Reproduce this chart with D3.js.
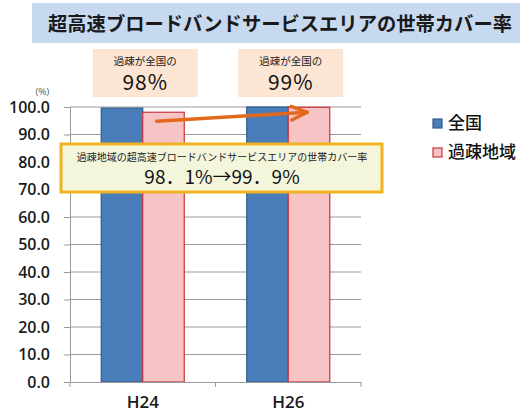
<!DOCTYPE html>
<html>
<head>
<meta charset="utf-8">
<script src="https://cdn.jsdelivr.net/npm/d3@7"></script>
<style>
  html, body { margin: 0; padding: 0; background: #fff; }
  svg { display: block; font-family: "Noto Sans CJK JP", "Noto Sans", sans-serif; }
</style>
</head>
<body>
<svg id="chart" width="520" height="412"></svg>
<script>
// Survey years and the two series (household coverage, %)
const categories = ["H24", "H26"];
const seriesNames = ["全国", "過疎地域"];
const nationalValues = [99.6, 100.0];
const ruralValues = [98.1, 99.9];
const yTicks = [0, 10, 20, 30, 40, 50, 60, 70, 80, 90, 100];
const ratioCaption = "過疎が全国の";
const ratioLabels = ["98%", "99%"];
const titleText = "超高速ブロードバンドサービスエリアの世帯カバー率";
const calloutTitle = "過疎地域の超高速ブロードバンドサービスエリアの世帯カバー率";
const calloutValue = "98．1%→99．9%";

const colors = {
  fill: ["#4a7ebb", "#f7c4c6"],
  stroke: ["#2f5a8c", "#c8333a"]
};

const svg = d3.select("#chart");
const plot = { left: 70, right: 361, top: 107, bottom: 382 };

const x0 = d3.scaleBand().domain(categories).range([plot.left, plot.right]).padding(0);
const x1 = d3.scaleBand().domain(seriesNames).range([0, x0.bandwidth()])
  .paddingInner(0).paddingOuter(0.753);
const y = d3.scaleLinear().domain([0, 100]).range([plot.bottom, plot.top]);

// Title banner
svg.append("rect").attr("x", 32).attr("y", 3).attr("width", 488).attr("height", 40)
  .attr("fill", "#c6d9ef");
svg.append("text").attr("x", 48).attr("y", 31)
  .attr("font-size", 19.8).attr("font-weight", "bold").attr("fill", "#1a1a1a")
  .attr("textLength", 464).attr("lengthAdjust", "spacingAndGlyphs")
  .text(titleText);

// Ratio boxes above each year
categories.forEach((c, i) => {
  const cx = x0(c) + x0.bandwidth() / 2;
  const g = svg.append("g");
  g.append("rect").attr("x", cx - 50).attr("y", 49).attr("width", 105).attr("height", 48)
    .attr("fill", "#fde5d3");
  g.append("text").attr("x", cx + 2.5).attr("y", 65).attr("text-anchor", "middle")
    .attr("font-size", 10.5).attr("fill", "#222").text(ratioCaption);
  g.append("text").attr("x", cx + 2.5).attr("y", 90).attr("text-anchor", "middle")
    .attr("font-size", 21).attr("letter-spacing", 1).attr("fill", "#111").text(ratioLabels[i]);
});

// Unit label
svg.append("text").attr("x", 30).attr("y", 95).attr("font-size", 8.5).attr("fill", "#333").text("（%）");

// Gridlines
svg.append("g").selectAll("line").data(yTicks.filter(t => t > 0)).join("line")
  .attr("x1", plot.left).attr("x2", plot.right)
  .attr("y1", d => y(d)).attr("y2", d => y(d))
  .attr("stroke", "#9a9a9a").attr("stroke-width", 1);

// Y axis
const yAxis = svg.append("g").attr("transform", `translate(${plot.left},0)`)
  .call(d3.axisLeft(y).tickValues(yTicks).tickFormat(d3.format(".1f")).tickSize(6).tickPadding(14));
yAxis.select(".domain").attr("stroke", "#9a9a9a");
yAxis.selectAll(".tick line").attr("stroke", "#9a9a9a");
yAxis.selectAll("text").attr("font-size", 16).attr("font-weight", 600).attr("fill", "#1a1a1a")
  .attr("font-family", "'Open Sans', 'Noto Sans', sans-serif");

// Bars
const rows = categories.map((c, i) => ({ cat: c, vals: [nationalValues[i], ruralValues[i]] }));
const groups = svg.append("g").selectAll("g").data(rows).join("g")
  .attr("transform", d => `translate(${x0(d.cat)},0)`);
groups.selectAll("rect").data(d => d.vals.map((v, j) => ({ name: seriesNames[j], v, j }))).join("rect")
  .attr("x", d => x1(d.name)).attr("width", x1.bandwidth())
  .attr("y", d => y(d.v)).attr("height", d => y(0) - y(d.v))
  .attr("fill", d => colors.fill[d.j]).attr("stroke", d => colors.stroke[d.j]).attr("stroke-width", 1.2);

// X axis
const xAxis = svg.append("g").attr("transform", `translate(0,${plot.bottom})`)
  .call(d3.axisBottom(x0).tickSize(0).tickPadding(14));
xAxis.select(".domain").attr("stroke", "#9a9a9a");
xAxis.selectAll("text").attr("font-size", 17).attr("font-weight", 600).attr("fill", "#1a1a1a")
  .attr("font-family", "'Open Sans', 'Noto Sans', sans-serif");
svg.append("g").selectAll("line").data([plot.left, x0(categories[1]), plot.right]).join("line")
  .attr("x1", d => d).attr("x2", d => d).attr("y1", plot.bottom).attr("y2", plot.bottom + 5)
  .attr("stroke", "#9a9a9a");

// Trend arrow between the rural bars
const ax1 = x0(categories[0]) + x1(seriesNames[1]) + 14;
const ax2 = x0(categories[1]) + x1(seriesNames[1]) + 19;
const ay1 = y(ruralValues[0]) + 9;
const ay2 = y(ruralValues[1]) + 5;
svg.append("defs").append("marker").attr("id", "head")
  .attr("viewBox", "0 0 10 10").attr("refX", 8).attr("refY", 5)
  .attr("markerWidth", 6.5).attr("markerHeight", 6.5).attr("orient", "auto")
  .attr("markerUnits", "strokeWidth")
  .append("path").attr("d", "M1,2 L8,5 L1,8").attr("fill", "none")
  .attr("stroke", "#e2691c").attr("stroke-width", 1.5).attr("stroke-linecap", "round")
  .attr("stroke-linejoin", "round");
svg.append("line").attr("x1", ax1).attr("y1", ay1).attr("x2", ax2).attr("y2", ay2)
  .attr("stroke", "#e2691c").attr("stroke-width", 3.5).attr("stroke-linecap", "round")
  .attr("marker-end", "url(#head)");

// Callout
svg.append("rect").attr("x", 61).attr("y", 144).attr("width", 321).attr("height", 48)
  .attr("fill", "#f4f6dc").attr("stroke", "#f2b120").attr("stroke-width", 3);
svg.append("text").attr("x", 222).attr("y", 161).attr("text-anchor", "middle")
  .attr("font-size", 10).attr("fill", "#222").text(calloutTitle);
svg.append("text").attr("x", 222).attr("y", 184).attr("text-anchor", "middle")
  .attr("font-size", 19).attr("fill", "#111").text(calloutValue);

// Legend
const legend = svg.append("g").selectAll("g").data(seriesNames).join("g")
  .attr("transform", (d, i) => `translate(433,${119 + i * 29})`);
legend.append("rect").attr("width", 9).attr("height", 9)
  .attr("fill", (d, i) => colors.fill[i]).attr("stroke", (d, i) => colors.stroke[i]).attr("stroke-width", 1.2);
legend.append("text").attr("x", 15).attr("y", 10).attr("font-size", 17).attr("font-weight", 500)
  .attr("fill", "#111").text(d => d);
</script>
</body>
</html>
